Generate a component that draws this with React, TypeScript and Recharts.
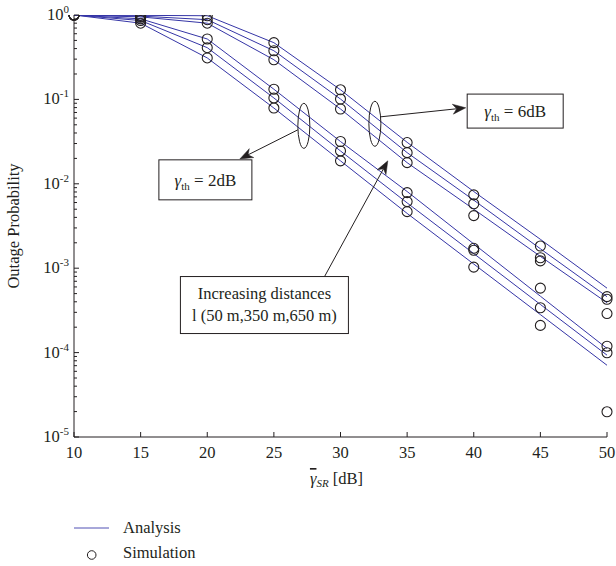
import React from "react";
import {
  ComposedChart,
  Line,
  XAxis,
  YAxis,
  ReferenceDot,
  ReferenceLine,
  Label,
} from "recharts";

const snrDb = [10, 15, 20, 25, 30, 35, 40, 45, 50];

// analysis, gamma_th = 6 dB, l = 50 / 350 / 650 m
const ana6dB50m = [1, 0.99, 0.98, 0.47, 0.13, 0.031, 0.0081, 0.0022, 0.00058];
const ana6dB350m = [1, 0.97, 0.88, 0.377, 0.101, 0.0234, 0.0064, 0.0017, 0.00046];
const ana6dB650m = [1, 0.95, 0.8, 0.295, 0.077, 0.0178, 0.005, 0.00138, 0.00039];
// analysis, gamma_th = 2 dB
const ana2dB50m = [1, 0.9, 0.52, 0.132, 0.0317, 0.0081, 0.00194, 0.000466, 0.000112];
const ana2dB350m = [1, 0.86, 0.41, 0.104, 0.0245, 0.00594, 0.00149, 0.000372, 0.0000933];
const ana2dB650m = [1, 0.8, 0.31, 0.079, 0.0187, 0.00446, 0.00112, 0.000282, 0.0000708];

// simulation points
const sim6dB50m = [1, 0.99, 0.98, 0.47, 0.13, 0.0308, 0.0074, 0.00183, 0.00046];
const sim6dB350m = [1, 0.96, 0.88, 0.377, 0.101, 0.0234, 0.0058, 0.00133, 0.000428];
const sim6dB650m = [1, 0.94, 0.8, 0.295, 0.077, 0.0178, 0.0042, 0.00122, 0.00029];
const sim2dB50m = [1, 0.9, 0.52, 0.132, 0.0317, 0.00787, 0.00172, 0.00058, 0.000119];
const sim2dB350m = [1, 0.86, 0.41, 0.104, 0.0245, 0.00615, 0.00163, 0.00034, 0.0000995];
const sim2dB650m = [1, 0.8, 0.31, 0.079, 0.0187, 0.00468, 0.00103, 0.00021, 0.0000199];

const xTicks = [10, 15, 20, 25, 30, 35, 40, 45, 50];
const yDecades = [1e-5, 1e-4, 1e-3, 1e-2, 1e-1, 1];
const yMinor = yDecades.slice(0, -1).flatMap((d) => [2, 3, 4, 5, 6, 7, 8, 9].map((m) => m * d));
const yTicks = [...yDecades, ...yMinor].sort((a, b) => a - b);

const analysis = [
  { key: "a6_50", values: ana6dB50m },
  { key: "a6_350", values: ana6dB350m },
  { key: "a6_650", values: ana6dB650m },
  { key: "a2_50", values: ana2dB50m },
  { key: "a2_350", values: ana2dB350m },
  { key: "a2_650", values: ana2dB650m },
];
const simulation = [
  { key: "s6_50", values: sim6dB50m },
  { key: "s6_350", values: sim6dB350m },
  { key: "s6_650", values: sim6dB650m },
  { key: "s2_50", values: sim2dB50m },
  { key: "s2_350", values: sim2dB350m },
  { key: "s2_650", values: sim2dB650m },
];

const rows = snrDb.map((x, i) => {
  const row: Record<string, number> = { x };
  [...analysis, ...simulation].forEach((s) => (row[s.key] = s.values[i]));
  return row;
});

const FONT = "'Liberation Serif', 'Times New Roman', serif";
const INK = "#231f20";
const BLUE = "#3535a6";

const isDecade = (v: number) => Math.abs(Math.log10(v) - Math.round(Math.log10(v))) < 1e-6;

function LeftTick({ x, y, payload }: any) {
  const v = payload.value;
  const major = isDecade(v);
  const exp = Math.round(Math.log10(v));
  return (
    <g>
      <line x1={x} x2={x + (major ? 5 : 3)} y1={y} y2={y} stroke={INK} />
      {major && (
        <text x={x - 5} y={y + 5} textAnchor="end" fontFamily={FONT} fontSize={16.5} fill={INK}>
          10
          <tspan dy={-7} fontSize={11}>{exp}</tspan>
        </text>
      )}
    </g>
  );
}

function RightTick({ x, y, payload }: any) {
  const major = isDecade(payload.value);
  return <line x1={x} x2={x - (major ? 5 : 3)} y1={y} y2={y} stroke={INK} />;
}

function BottomTick({ x, y, payload }: any) {
  return (
    <g>
      <line x1={x} x2={x} y1={y} y2={y - 5} stroke={INK} />
      <text x={x} y={y + 21} textAnchor="middle" fontFamily={FONT} fontSize={16.5} fill={INK}>
        {payload.value}
      </text>
    </g>
  );
}

function TopTick({ x, y }: any) {
  return <line x1={x} x2={x} y1={y} y2={y + 5} stroke={INK} />;
}

function XTitle({ viewBox }: any) {
  const cx = viewBox.x + viewBox.width / 2 - 4;
  return (
    <text x={cx} y={viewBox.y + 47} textAnchor="middle" fontFamily={FONT} fontSize={16.5} fill={INK}>
      <tspan fontStyle="italic" style={{ textDecoration: "overline" }}>γ</tspan>
      <tspan fontStyle="italic" fontSize={11} dy={3}>SR</tspan>
      <tspan dy={-3}> [dB]</tspan>
    </text>
  );
}

function YTitle({ viewBox }: any) {
  const x = viewBox.x + 7;
  const y = viewBox.y + viewBox.height / 2;
  return (
    <text
      x={x}
      y={y}
      transform={`rotate(-90, ${x}, ${y})`}
      textAnchor="middle"
      dominantBaseline="middle"
      fontFamily={FONT}
      fontSize={16.5}
      fill={INK}
    >
      Outage Probability
    </text>
  );
}

function SimDot(props: any) {
  const { cx, cy, index, dataKey } = props;
  if (cx == null || cy == null) return <g key={`${dataKey}-${index}`} />;
  return <circle key={`${dataKey}-${index}`} cx={cx} cy={cy} r={5} fill="none" stroke={INK} strokeWidth={1.1} />;
}

const ellipseShape = (props: any) => (
  <ellipse cx={props.cx} cy={props.cy} rx={6} ry={22.5} fill="none" stroke={INK} strokeWidth={1} />
);

function arrowShape(props: any) {
  const { x1, y1, x2, y2 } = props;
  const ang = Math.atan2(y2 - y1, x2 - x1);
  const len = 13;
  const hw = 5;
  const bx = x2 - len * Math.cos(ang);
  const by = y2 - len * Math.sin(ang);
  const nx = x2 - len * 0.7 * Math.cos(ang);
  const ny = y2 - len * 0.7 * Math.sin(ang);
  const px = -Math.sin(ang) * hw;
  const py = Math.cos(ang) * hw;
  const pts = `${x2},${y2} ${bx + px},${by + py} ${nx},${ny} ${bx - px},${by - py}`;
  return (
    <g>
      <line x1={x1} y1={y1} x2={nx} y2={ny} stroke={INK} strokeWidth={1} />
      <polygon points={pts} fill={INK} stroke={INK} strokeWidth={0.5} />
    </g>
  );
}

function thresholdBox(value: string, w: number, h: number) {
  return (props: any) => (
    <g>
      <rect x={props.cx - w / 2} y={props.cy - h / 2} width={w} height={h} fill="#fff" stroke={INK} strokeWidth={1} />
      <text x={props.cx} y={props.cy + 6} textAnchor="middle" fontFamily={FONT} fontSize={17} fill={INK}>
        <tspan fontStyle="italic">γ</tspan>
        <tspan fontSize={11} dy={4}>th</tspan>
        <tspan dy={-4}>{` = ${value}`}</tspan>
      </text>
    </g>
  );
}

const distanceBox = (props: any) => (
  <g>
    <rect x={props.cx - 84} y={props.cy - 28.5} width={168} height={57} fill="#fff" stroke={INK} strokeWidth={1} />
    <text x={props.cx} y={props.cy - 6} textAnchor="middle" fontFamily={FONT} fontSize={16.5} fill={INK}>
      Increasing distances
    </text>
    <text x={props.cx} y={props.cy + 16} textAnchor="middle" fontFamily={FONT} fontSize={16.5} fill={INK}>
      l (50 m,350 m,650 m)
    </text>
  </g>
);

export default function App() {
  return (
    <div style={{ position: "absolute", left: 0, top: 0, width: 616, height: 566, background: "#fff" }}>
      <ComposedChart width={616} height={566} data={rows} margin={{ top: 15, right: 9, bottom: 99, left: 8 }}>
        <XAxis
          dataKey="x"
          type="number"
          domain={[10, 50]}
          ticks={xTicks}
          interval={0}
          height={30}
          tickSize={0}
          tickMargin={0}
          tickLine={false}
          tick={<BottomTick />}
          axisLine={{ stroke: INK }}
        >
          <Label content={<XTitle />} />
        </XAxis>
        <XAxis
          xAxisId="top"
          orientation="top"
          dataKey="x"
          type="number"
          domain={[10, 50]}
          ticks={xTicks}
          interval={0}
          height={0}
          tickSize={0}
          tickMargin={0}
          tickLine={false}
          tick={<TopTick />}
          axisLine={{ stroke: INK }}
        />
        <YAxis
          scale="log"
          type="number"
          domain={[1e-5, 1]}
          allowDataOverflow
          ticks={yTicks}
          interval={0}
          width={66}
          tickSize={0}
          tickMargin={0}
          tickLine={false}
          tick={<LeftTick />}
          axisLine={{ stroke: INK }}
        >
          <Label content={<YTitle />} />
        </YAxis>
        <YAxis
          yAxisId="right"
          orientation="right"
          scale="log"
          type="number"
          domain={[1e-5, 1]}
          allowDataOverflow
          ticks={yTicks}
          interval={0}
          width={0}
          tickSize={0}
          tickMargin={0}
          tickLine={false}
          tick={<RightTick />}
          axisLine={{ stroke: INK }}
        />
        {analysis.map((s) => (
          <Line
            key={s.key}
            dataKey={s.key}
            type="linear"
            stroke={BLUE}
            strokeWidth={1}
            dot={false}
            activeDot={false}
            isAnimationActive={false}
          />
        ))}
        {simulation.map((s) => (
          <Line
            key={s.key}
            dataKey={s.key}
            type="linear"
            stroke="none"
            dot={SimDot}
            activeDot={false}
            isAnimationActive={false}
          />
        ))}
        <ReferenceDot x={27.25} y={0.0486} shape={ellipseShape} />
        <ReferenceDot x={32.58} y={0.0514} shape={ellipseShape} />
        <ReferenceLine segment={[{ x: 26.8, y: 0.0436 }, { x: 22.45, y: 0.0197 }]} shape={arrowShape} />
        <ReferenceLine segment={[{ x: 33.03, y: 0.0622 }, { x: 39.4, y: 0.0795 }]} shape={arrowShape} />
        <ReferenceLine segment={[{ x: 28.75, y: 0.000769 }, { x: 33.55, y: 0.0187 }]} shape={arrowShape} />
        <ReferenceDot x={19.86} y={0.01114} shape={thresholdBox("2dB", 93, 40)} />
        <ReferenceDot x={43.11} y={0.0727} shape={thresholdBox("6dB", 96, 34)} />
        <ReferenceDot x={24.29} y={0.000366} shape={distanceBox} />
      </ComposedChart>
      <svg width={200} height={56} style={{ position: "absolute", left: 60, top: 510 }}>
        <line x1={14} x2={49} y1={18} y2={18} stroke="#5050b4" strokeWidth={1} />
        <text x={63} y={23} fontFamily={FONT} fontSize={16.5} fill={INK}>Analysis</text>
        <circle cx={31.7} cy={45} r={4.3} fill="none" stroke={INK} strokeWidth={1} />
        <text x={63} y={48} fontFamily={FONT} fontSize={16.5} fill={INK}>Simulation</text>
      </svg>
    </div>
  );
}
